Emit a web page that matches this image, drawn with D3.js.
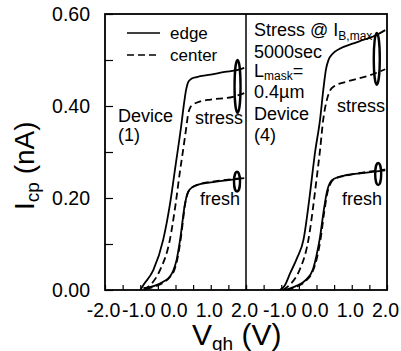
<!DOCTYPE html>
<html>
<head>
<meta charset="utf-8">
<script src="https://cdn.jsdelivr.net/npm/d3@7"></script>
<style>
  body { margin: 0; background: #fff; }
  svg { display: block; font-family: "Liberation Sans", Arial, Helvetica, sans-serif; }
</style>
</head>
<body>
<div id="chart"></div>
<script>
// tick values
const xTickVals = [-2, -1.5, -1, -0.5, 0, 0.5, 1, 1.5, 2];
const xLabelVals = [-2, -1, 0, 1, 2];
const yTickVals = [0, 0.1, 0.2, 0.3, 0.4, 0.5, 0.6];
const yLabelVals = [0, 0.2, 0.4, 0.6];

// Device (1) - left panel
const d1StressEdgeV = [-1.0, -0.91, -0.63, -0.35, -0.15, 0.0, 0.15, 0.25, 0.3, 0.36, 0.45, 0.6, 1.0, 1.4, 1.74, 1.95];
const d1StressEdgeI = [0, 0.011, 0.043, 0.109, 0.19, 0.27, 0.35, 0.41, 0.435, 0.452, 0.459, 0.463, 0.468, 0.474, 0.478, 0.483];
const d1StressCenterV = [-0.9, -0.7, -0.44, -0.16, 0.0, 0.13, 0.175, 0.3, 0.36, 0.42, 0.5, 0.7, 1.0, 1.63, 1.95];
const d1StressCenterI = [0, 0.012, 0.043, 0.109, 0.185, 0.26, 0.283, 0.35, 0.383, 0.397, 0.403, 0.41, 0.414, 0.42, 0.428];
const d1FreshEdgeV = [-0.91, -0.6, -0.35, -0.15, -0.06, 0.03, 0.13, 0.27, 0.34, 0.41, 0.6, 1.0, 1.5, 1.95];
const d1FreshEdgeI = [0.004, 0.009, 0.018, 0.03, 0.043, 0.065, 0.109, 0.188, 0.21, 0.219, 0.228, 0.234, 0.239, 0.243];
const d1FreshCenterV = [-0.85, -0.6, -0.35, -0.15, -0.04, 0.05, 0.15, 0.28, 0.35, 0.43, 0.6, 1.0, 1.5, 1.95];
const d1FreshCenterI = [0.002, 0.007, 0.016, 0.029, 0.042, 0.066, 0.112, 0.19, 0.211, 0.22, 0.228, 0.235, 0.24, 0.244];

// Device (4) - right panel
const d4StressEdgeV = [-1.04, -0.9, -0.75, -0.55, -0.37, -0.2, -0.04, 0.1, 0.2, 0.27, 0.34, 0.45, 0.67, 1.0, 1.3, 1.61, 1.95];
const d4StressEdgeI = [0, 0.01, 0.036, 0.07, 0.109, 0.2, 0.3, 0.37, 0.44, 0.48, 0.5, 0.513, 0.525, 0.535, 0.543, 0.551, 0.565];
const d4StressCenterV = [-0.95, -0.75, -0.5, -0.23, 0.0, 0.1, 0.19, 0.3, 0.38, 0.5, 0.86, 1.2, 1.52, 1.95];
const d4StressCenterI = [0, 0.012, 0.04, 0.109, 0.24, 0.304, 0.37, 0.415, 0.433, 0.443, 0.453, 0.46, 0.467, 0.48];
const d4FreshEdgeV = [-0.9, -0.6, -0.3, -0.1, 0.0, 0.1, 0.2, 0.3, 0.38, 0.5, 0.86, 1.3, 1.95];
const d4FreshEdgeI = [0, 0.008, 0.022, 0.045, 0.075, 0.115, 0.17, 0.215, 0.233, 0.242, 0.25, 0.254, 0.26];
const d4FreshCenterV = [-0.85, -0.6, -0.3, -0.1, 0.02, 0.12, 0.22, 0.32, 0.4, 0.5, 0.86, 1.3, 1.95];
const d4FreshCenterI = [0, 0.006, 0.02, 0.042, 0.072, 0.113, 0.17, 0.215, 0.232, 0.241, 0.249, 0.255, 0.262];

// grouping ellipses: [V, Ilow, Ihigh]
const d1Rings = [[1.76, 0.385, 0.5], [1.745, 0.214, 0.257]];
const d4Rings = [[1.71, 0.446, 0.559], [1.75, 0.228, 0.276]];

const W = 401, H = 351;
const mLeft = 105, mMid = 246, mRight = 387, mTop = 14, mBottom = 290;

const svg = d3.select("#chart").append("svg")
  .attr("width", W).attr("height", H);

const y = d3.scaleLinear().domain([0, 0.6]).range([mBottom, mTop]);
const xL = d3.scaleLinear().domain([-2, 2]).range([mLeft, mMid]);
const xR = d3.scaleLinear().domain([-2, 2]).range([mMid, mRight]);

const zip = (vs, is) => vs.map((v, k) => [v, is[k]]);

function drawPanel(x, curves, rings, showFirstLabel) {
  const g = svg.append("g");
  // bottom ticks, inward
  const ax = g.append("g")
    .attr("transform", `translate(0,${mBottom})`)
    .call(d3.axisBottom(x).tickValues(xTickVals).tickSizeInner(-5).tickSizeOuter(0).tickFormat(""));
  ax.select(".domain").remove();
  ax.selectAll("line").attr("stroke", "#000").attr("stroke-width", 1.2);

  g.selectAll("text.xl")
    .data(showFirstLabel ? xLabelVals : xLabelVals.slice(1))
    .join("text")
    .attr("class", "xl")
    .attr("x", d => x(d) - 1.5)
    .attr("y", 317)
    .attr("text-anchor", "middle")
    .attr("font-size", 19.5)
    .text(d => d.toFixed(1));

  const line = d3.line()
    .x(d => x(d[0])).y(d => y(d[1]))
    .curve(d3.curveMonotoneX);

  curves.forEach(c => {
    g.append("path")
      .datum(c.pts)
      .attr("fill", "none")
      .attr("stroke", "#000")
      .attr("stroke-width", 1.8)
      .attr("stroke-dasharray", c.dash ? "7,4" : null)
      .attr("d", line);
  });

  g.selectAll("ellipse")
    .data(rings)
    .join("ellipse")
    .attr("cx", d => x(d[0]))
    .attr("cy", d => (y(d[1]) + y(d[2])) / 2)
    .attr("rx", 3)
    .attr("ry", d => (y(d[1]) - y(d[2])) / 2)
    .attr("fill", "none")
    .attr("stroke", "#000")
    .attr("stroke-width", 2.4);
}

drawPanel(xL, [
  { pts: zip(d1StressEdgeV, d1StressEdgeI), dash: false },
  { pts: zip(d1StressCenterV, d1StressCenterI), dash: true },
  { pts: zip(d1FreshEdgeV, d1FreshEdgeI), dash: false },
  { pts: zip(d1FreshCenterV, d1FreshCenterI), dash: true }
], d1Rings, true);

drawPanel(xR, [
  { pts: zip(d4StressEdgeV, d4StressEdgeI), dash: false },
  { pts: zip(d4StressCenterV, d4StressCenterI), dash: true },
  { pts: zip(d4FreshEdgeV, d4FreshEdgeI), dash: false },
  { pts: zip(d4FreshCenterV, d4FreshCenterI), dash: true }
], d4Rings, false);

// left y axis, inward ticks
const ay = svg.append("g")
  .attr("transform", `translate(${mLeft},0)`)
  .call(d3.axisLeft(y).tickValues(yTickVals).tickSizeInner(-8).tickSizeOuter(0).tickFormat(""));
ay.select(".domain").remove();
ay.selectAll("line").attr("stroke", "#000").attr("stroke-width", 1.2);

svg.selectAll("text.yl")
  .data(yLabelVals)
  .join("text")
  .attr("class", "yl")
  .attr("x", 90)
  .attr("y", d => y(d) + 7)
  .attr("text-anchor", "end")
  .attr("font-size", 19.5)
  .text(d => d.toFixed(2));

// frame and divider
svg.append("rect")
  .attr("x", mLeft).attr("y", mTop)
  .attr("width", mRight - mLeft).attr("height", mBottom - mTop)
  .attr("fill", "none").attr("stroke", "#000").attr("stroke-width", 1.8);
svg.append("line")
  .attr("x1", mMid).attr("x2", mMid).attr("y1", mTop).attr("y2", mBottom)
  .attr("stroke", "#000").attr("stroke-width", 1.5);

// legend
svg.append("line").attr("x1", 127).attr("x2", 160).attr("y1", 33).attr("y2", 33)
  .attr("stroke", "#000").attr("stroke-width", 1.6);
svg.append("line").attr("x1", 127).attr("x2", 160).attr("y1", 55).attr("y2", 55)
  .attr("stroke", "#000").attr("stroke-width", 1.6).attr("stroke-dasharray", "7,4");
svg.append("text").attr("x", 170).attr("y", 39).attr("font-size", 17).text("edge");
svg.append("text").attr("x", 170).attr("y", 61).attr("font-size", 17).text("center");

// annotations
const ann = (x, yy, t, fs) => svg.append("text").attr("x", x).attr("y", yy).attr("font-size", fs || 18).text(t);
ann(118, 122, "Device");
ann(118, 141, "(1)");
ann(195, 124, "stress");
ann(200, 205, "fresh");

const s1 = svg.append("text").attr("x", 254).attr("y", 36).attr("font-size", 18);
s1.append("tspan").text("Stress @ I");
s1.append("tspan").attr("font-size", 12).attr("dy", 4).text("B,max");
ann(254, 58, "5000sec");
const s3 = svg.append("text").attr("x", 254).attr("y", 77).attr("font-size", 18);
s3.append("tspan").text("L");
s3.append("tspan").attr("font-size", 12).attr("dy", 3).text("mask");
s3.append("tspan").attr("dy", -3).text("=");
ann(254, 98, "0.4\u00b5m");
ann(254, 120, "Device");
ann(254, 141, "(4)");
ann(337, 112, "stress");
ann(342, 205, "fresh");

// axis titles
const yt = svg.append("text")
  .attr("transform", "translate(34,210) rotate(-90)")
  .attr("font-size", 28);
yt.append("tspan").text("I");
yt.append("tspan").attr("font-size", 19).attr("dy", 5).text("cp");
yt.append("tspan").attr("dy", -5).text(" (nA)");

const xt = svg.append("text")
  .attr("x", 192).attr("y", 345)
  .attr("font-size", 30);
xt.append("tspan").text("V");
xt.append("tspan").attr("font-size", 19).attr("dy", 5).text("gh");
xt.append("tspan").attr("dy", -5).text(" (V)");
</script>
</body>
</html>
